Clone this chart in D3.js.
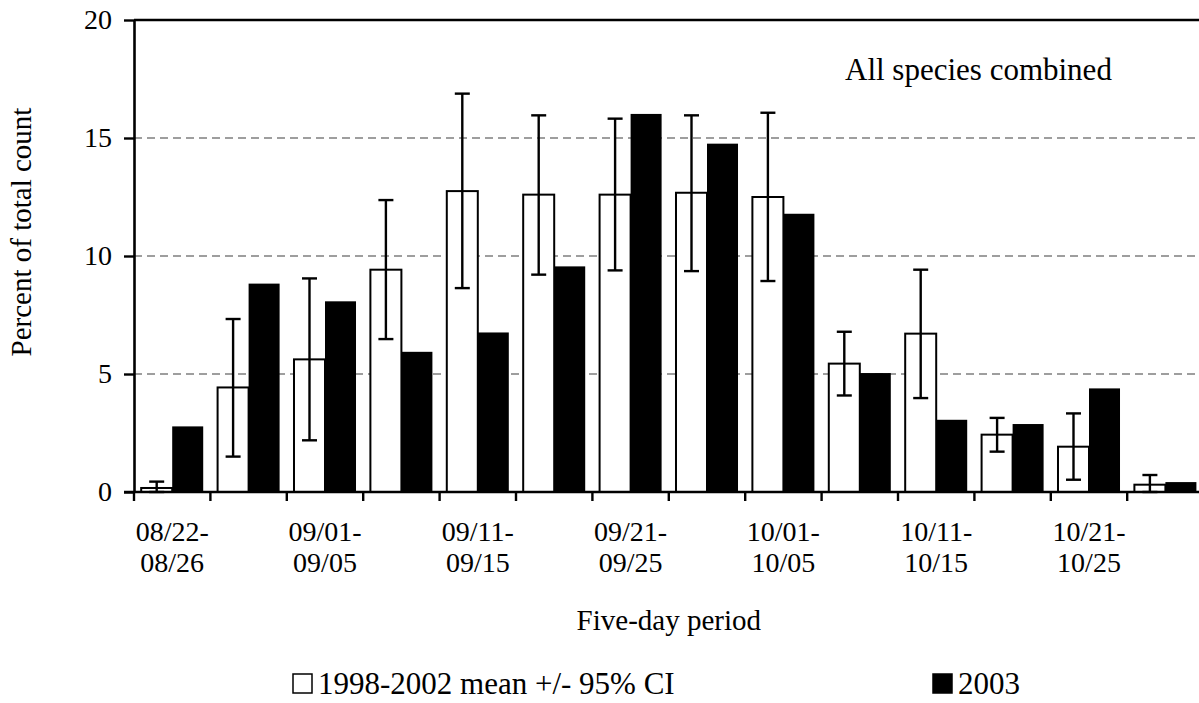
<!DOCTYPE html>
<html>
<head>
<meta charset="utf-8">
<script src="https://cdn.jsdelivr.net/npm/d3@7"></script>
<style>
  body { margin: 0; background: #fff; }
  text { font-family: "Liberation Serif", "Times New Roman", serif; fill: #000; }
</style>
</head>
<body>
<div class="body"></div>
<script>
const periods = [
  "08/22-08/26", "08/27-08/31", "09/01-09/05", "09/06-09/10", "09/11-09/15",
  "09/16-09/20", "09/21-09/25", "09/26-09/30", "10/01-10/05", "10/06-10/10",
  "10/11-10/15", "10/16-10/20", "10/21-10/25", "10/26-10/31"
];
const meanValues = [0.17, 4.43, 5.62, 9.42, 12.75, 12.6, 12.6, 12.68, 12.5, 5.44, 6.71, 2.43, 1.92, 0.31];
const ciUpper = [0.44, 7.33, 9.05, 12.37, 16.88, 15.96, 15.82, 15.96, 16.07, 6.79, 9.42, 3.14, 3.33, 0.72];
const ciLower = [0, 1.5, 2.19, 6.48, 8.64, 9.21, 9.39, 9.36, 8.94, 4.09, 3.98, 1.71, 0.52, 0];
const values2003 = [2.78, 8.83, 8.08, 5.94, 6.76, 9.56, 16.02, 14.76, 11.79, 5.04, 3.06, 2.88, 4.39, 0.42];
const yTicks = [0, 5, 10, 15, 20];
const seriesNames = ["1998-2002 mean +/- 95% CI", "2003"];

const pieces = d3.select(".body");
const svg = pieces.append("svg").attr("width", 1199).attr("height", 703);

const plotLeft = 134, plotTop = 20, plotBottom = 492, step = 76.4;
const plotRight = plotLeft + step * periods.length;

const x = d3.scaleBand().domain(periods).range([plotLeft, plotRight]).padding(0);
const x1 = d3.scaleBand().domain(seriesNames).range([0, x.bandwidth()])
  .paddingInner(0).paddingOuter(0.232);
const y = d3.scaleLinear().domain([0, 20]).range([plotBottom, plotTop]);

// dashed grid lines
svg.append("g")
  .selectAll("line")
  .data(yTicks.filter(d => d > 0 && d < 20))
  .join("line")
  .attr("x1", plotLeft).attr("x2", plotRight)
  .attr("y1", d => y(d)).attr("y2", d => y(d))
  .attr("stroke", "#7f7f7f")
  .attr("stroke-width", 1.5)
  .attr("stroke-dasharray", "8,5");

// top frame line
svg.append("line")
  .attr("x1", plotLeft).attr("x2", plotRight)
  .attr("y1", y(20)).attr("y2", y(20))
  .attr("stroke", "#000").attr("stroke-width", 2.6);

const rows = periods.map((p, i) => ({
  p: p, mean: meanValues[i], hi: ciUpper[i], lo: ciLower[i], v: values2003[i]
}));

// mean bars
svg.append("g")
  .selectAll("rect")
  .data(rows)
  .join("rect")
  .attr("x", d => x(d.p) + x1(seriesNames[0]))
  .attr("y", d => y(d.mean))
  .attr("width", x1.bandwidth())
  .attr("height", d => y(0) - y(d.mean))
  .attr("fill", "#fff")
  .attr("stroke", "#000")
  .attr("stroke-width", 2);

// 2003 bars
svg.append("g")
  .selectAll("rect")
  .data(rows)
  .join("rect")
  .attr("x", d => x(d.p) + x1(seriesNames[1]))
  .attr("y", d => y(d.v))
  .attr("width", x1.bandwidth())
  .attr("height", d => y(0) - y(d.v))
  .attr("fill", "#000");

// error bars
const err = svg.append("g").attr("stroke", "#000").attr("stroke-width", 2.4);
rows.forEach(d => {
  const cx = x(d.p) + x1(seriesNames[0]) + x1.bandwidth() / 2;
  err.append("line").attr("x1", cx).attr("x2", cx).attr("y1", y(d.lo)).attr("y2", y(d.hi));
  err.append("line").attr("x1", cx - 7.5).attr("x2", cx + 7.5).attr("y1", y(d.hi)).attr("y2", y(d.hi));
  err.append("line").attr("x1", cx - 7.5).attr("x2", cx + 7.5).attr("y1", y(d.lo)).attr("y2", y(d.lo));
});

// y axis
const yAxis = svg.append("g")
  .attr("transform", `translate(${plotLeft},0)`)
  .call(d3.axisLeft(y).tickValues(yTicks).tickSize(10).tickPadding(12).tickSizeOuter(0));
yAxis.select(".domain").attr("stroke-width", 2.6);
yAxis.selectAll(".tick line").attr("stroke-width", 2.4);
yAxis.selectAll(".tick text").attr("font-size", 28).attr("font-family", "Liberation Serif");

// x axis: ticks at category boundaries
const xAxisG = svg.append("g");
xAxisG.append("line")
  .attr("x1", plotLeft - 10).attr("x2", plotRight)
  .attr("y1", y(0)).attr("y2", y(0))
  .attr("stroke", "#000").attr("stroke-width", 2.6);
xAxisG.selectAll(".xt")
  .data(periods)
  .join("line")
  .attr("class", "xt")
  .attr("x1", d => x(d)).attr("x2", d => x(d))
  .attr("y1", y(0)).attr("y2", y(0) + 9)
  .attr("stroke", "#000").attr("stroke-width", 2.4);

const labels = xAxisG.selectAll(".xl")
  .data(periods.filter((d, i) => i % 2 === 0))
  .join("text")
  .attr("class", "xl")
  .attr("text-anchor", "middle")
  .attr("font-size", 28);
labels.append("tspan")
  .attr("x", d => x(d) + x.bandwidth() / 2)
  .attr("y", 541)
  .text(d => d.split("-")[0] + "-");
labels.append("tspan")
  .attr("x", d => x(d) + x.bandwidth() / 2)
  .attr("y", 572)
  .text(d => d.split("-")[1]);

// axis titles
svg.append("text")
  .attr("x", (plotLeft + plotRight) / 2)
  .attr("y", 630)
  .attr("text-anchor", "middle")
  .attr("font-size", 29)
  .text("Five-day period");

svg.append("text")
  .attr("transform", "translate(31,232) rotate(-90)")
  .attr("text-anchor", "middle")
  .attr("font-size", 29)
  .text("Percent of total count");

svg.append("text")
  .attr("x", 845)
  .attr("y", 80)
  .attr("font-size", 31)
  .text("All species combined");

// legend
const legendX = [292, 932];
const legend = svg.append("g")
  .selectAll("g")
  .data(seriesNames)
  .join("g")
  .attr("transform", (d, i) => `translate(${legendX[i]},673)`);
legend.append("rect")
  .attr("x", 1).attr("y", 1)
  .attr("width", 19).attr("height", 19)
  .attr("fill", (d, i) => i === 0 ? "#fff" : "#000")
  .attr("stroke", "#000")
  .attr("stroke-width", 1.5);
legend.append("text")
  .attr("x", 26)
  .attr("y", 21)
  .attr("font-size", 31)
  .text(d => d);
</script>
</body>
</html>
